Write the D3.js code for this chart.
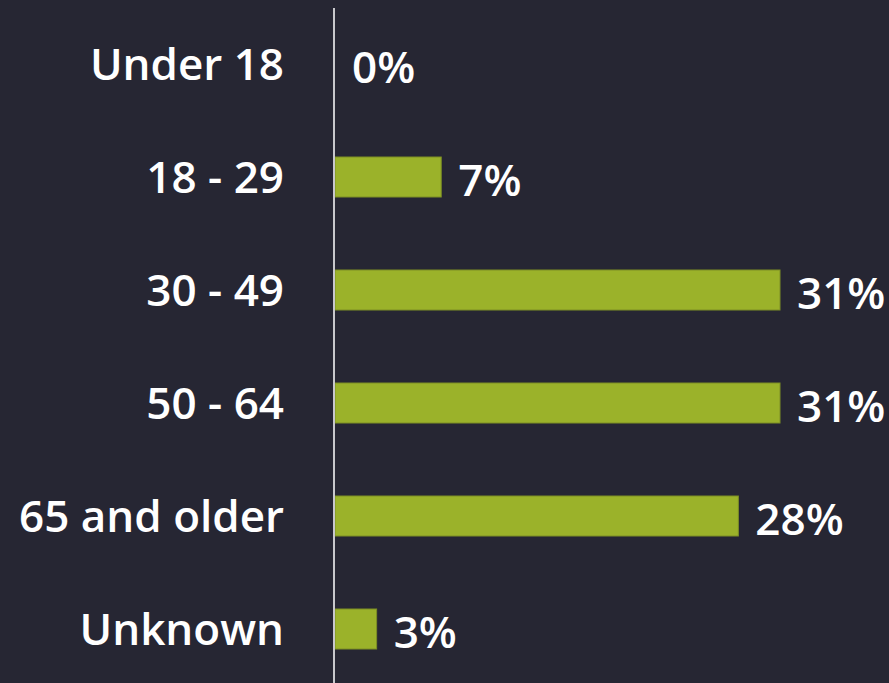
<!DOCTYPE html>
<html>
<head>
<meta charset="utf-8">
<script src="https://d3js.org/d3.v7.min.js"></script>
<style>
  body { margin:0; background:#262633; }
  .cat, .val {
    font-family:"Open Sans", "Noto Sans", sans-serif;
    font-size:44px;
    font-weight:600;
    fill:white;
  }
</style>
</head>
<body>
<script>
var categories = ["Under 18", "18 - 29", "30 - 49", "50 - 64", "65 and older", "Unknown"];
var values = [0, 7.4, 31, 31, 28.1, 2.9];
var valueLabels = ["0%", "7%", "31%", "31%", "28%", "3%"];

var width = 889, height = 683;
var svg = d3.select("body").append("svg")
            .attr("width", width).attr("height", height)
            .style("background", "#262633");

var x = d3.scaleLinear().domain([0, 31]).range([335, 780]);
var y = d3.scaleBand().domain(categories).range([-29, 722]).padding(0.646);

var rows = categories.map(function(c, i) { return {cat: c, value: values[i], label: valueLabels[i]}; });

svg.append("g").selectAll("rect").data(rows).enter().append("rect")
   .attr("x", x(0))
   .attr("y", function(d) { return y(d.cat); })
   .attr("width", function(d) { return x(d.value) - x(0); })
   .attr("height", y.bandwidth())
   .attr("fill", "#9bb22a")
   .attr("stroke", "#7d8f24")
   .attr("stroke-width", d => d.value > 0 ? 1 : 0);

svg.append("line")
   .attr("x1", 334).attr("x2", 334)
   .attr("y1", 8).attr("y2", height)
   .attr("stroke", "#c8c8cc").attr("stroke-width", 2);

svg.append("g").selectAll("text").data(rows).enter().append("text")
   .classed("cat", true)
   .attr("x", 284)
   .attr("y", function(d) { return y(d.cat) + y.bandwidth() / 2; })
   .attr("dy", "0.36em")
   .attr("text-anchor", "end")
   .text(function(d) { return d.cat; });

svg.append("g").selectAll("text").data(rows).enter().append("text")
   .classed("val", true)
   .attr("x", function(d) { return x(d.value) + 17; })
   .attr("y", function(d) { return y(d.cat) + y.bandwidth() / 2; })
   .attr("dy", "0.44em")
   .text(function(d) { return d.label; });
</script>
</body>
</html>
